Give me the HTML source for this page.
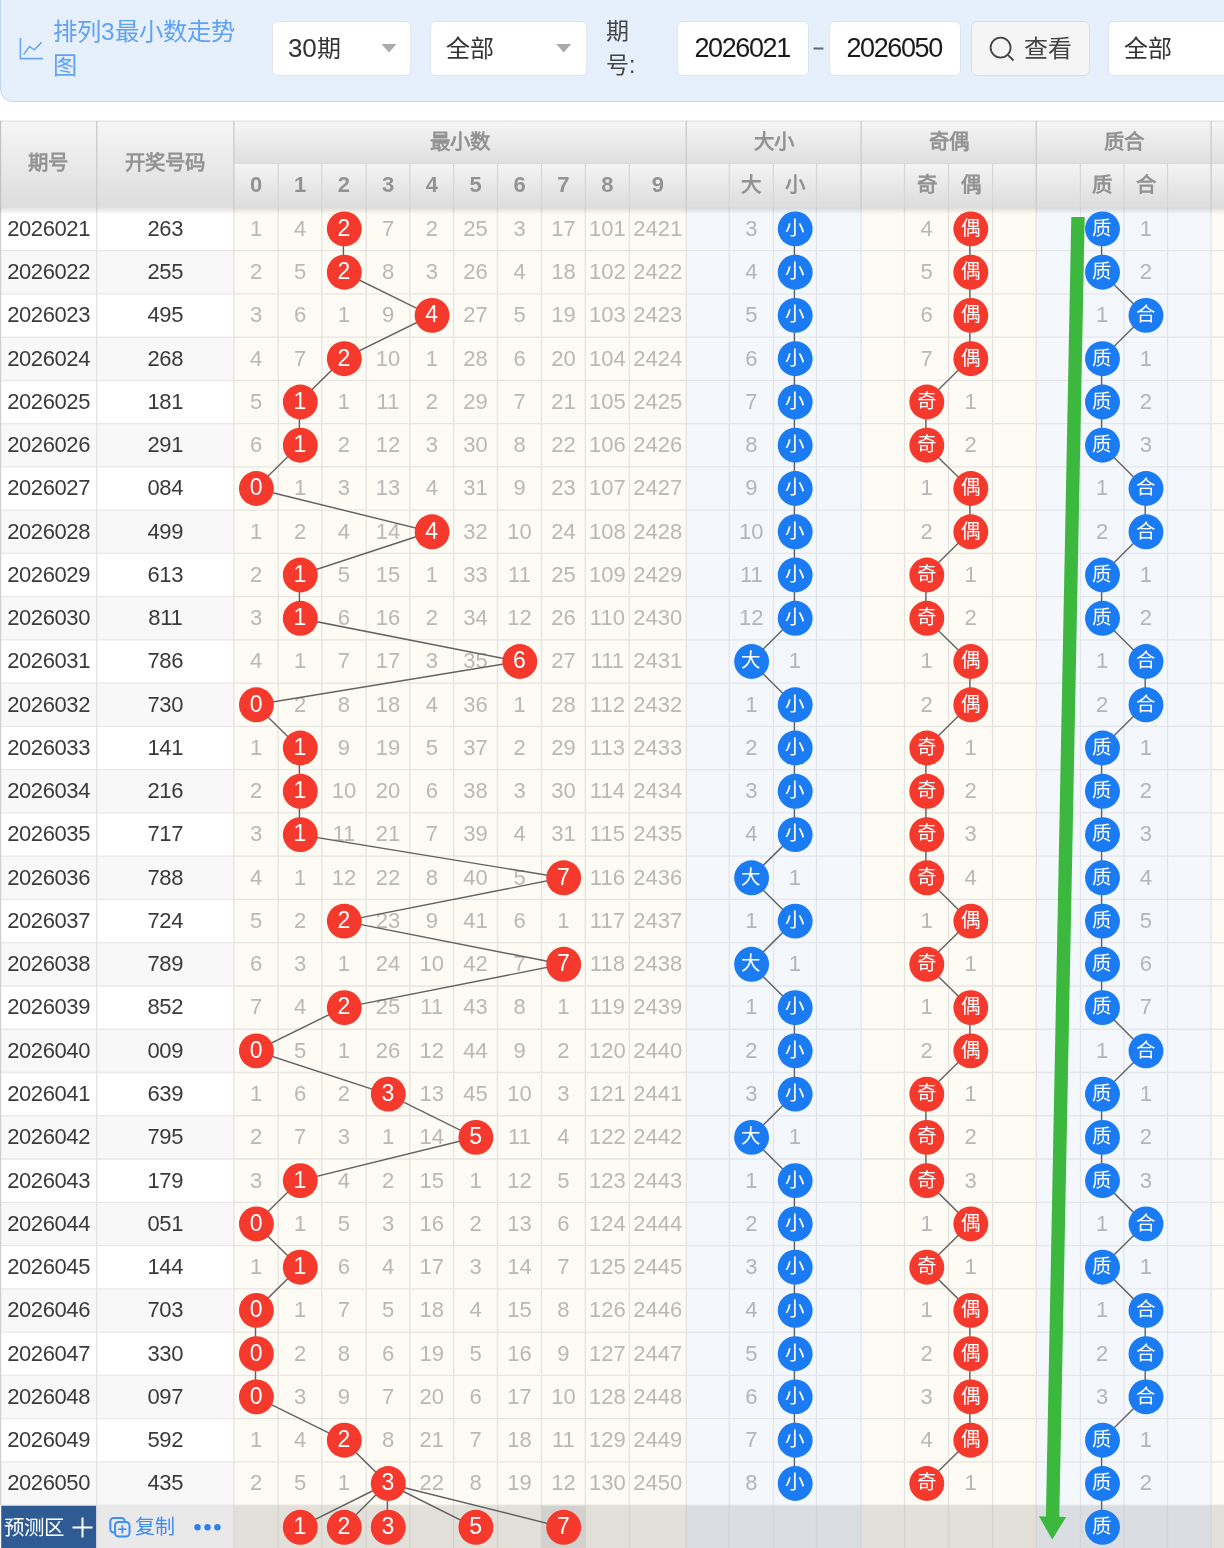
<!DOCTYPE html>
<html lang="zh-CN"><head><meta charset="utf-8"><title>排列3最小数走势图</title><style>
html,body{margin:0;padding:0;background:#fff;overflow:hidden}
body{width:1224px;height:1548px;overflow:hidden;position:relative;font-family:"Liberation Sans",sans-serif}
svg{position:absolute;left:0;top:0}
.L{position:absolute;left:0;top:0;width:1224px;height:1548px;will-change:transform}
.box,.ti,.lab{will-change:transform}
.t{position:absolute;width:120px;height:43.26px;line-height:43.26px;text-align:center;white-space:nowrap;font-size:22px}
.p{color:#3a3a3a;letter-spacing:-0.4px}
.g{color:#b8b8b4}
.gb{color:#b2b5ba}
.c{color:#fff;font-size:23px}
.k{color:#fff;font-size:19.5px;font-weight:500}
.h{color:#939393;font-weight:bold;font-size:20.5px}
.hd{font-size:22px}
.bar{position:absolute;left:0;top:-30px;width:1300px;height:129.8px;background:#e6f0fd;border:1.5px solid #c2d5ec;border-radius:0 0 0 13px;box-sizing:content-box}
.box{position:absolute;top:21px;height:55px;background:#fff;border:1px solid #dfe3ea;border-radius:6px;box-sizing:border-box;font-size:24px;line-height:53px;color:#333;white-space:nowrap}
.n{font-size:26px;letter-spacing:-0.2px;line-height:20px}
.ti{position:absolute;left:53px;top:14.7px;width:200px;font-size:24.3px;line-height:34px;color:#60a1f3}
.lab{position:absolute;left:606px;top:14px;width:40px;font-size:23px;line-height:34px;color:#444}
</style></head><body>
<div class="bar"></div>
<svg width="60" height="80" viewBox="0 0 60 80"><path d="M20.4 38V58.6H43" fill="none" stroke="#6aa5f2" stroke-width="1.6"/><path d="M23.6 54.6L29.4 46.6L34.3 49.8L41.7 42.2" fill="none" stroke="#6aa5f2" stroke-width="1.6"/></svg>
<div class="ti">排列3最小数走势图</div>
<div class="box" style="left:272px;width:139px;padding-left:15px"><span class="n">30</span>期</div>
<div class="box" style="left:430px;width:157px;padding-left:15px">全部</div>
<div class="lab">期号:</div>
<div class="box" style="left:677px;width:132px;padding-left:16.5px;font-size:27px;letter-spacing:-1.4px;color:#1a1a1a;line-height:52px">2026021</div>
<div class="box" style="left:829px;width:132px;padding-left:16.5px;font-size:27px;letter-spacing:-1.4px;color:#1a1a1a;line-height:52px">2026050</div>
<div class="box" style="left:970.5px;width:119px;padding-left:51.5px;background:#f5f5f5;border-color:#dcdcdc;color:#444">查看</div>
<div class="box" style="left:1108px;width:140px;padding-left:15px">全部</div>
<svg width="1224" height="110" viewBox="0 0 1224 110">
<path d="M381.5 44h15l-7.5 8.5z" fill="#aaa"/><path d="M556.2 44h15l-7.5 8.5z" fill="#aaa"/>
<rect x="813.5" y="47.5" width="10" height="2" fill="#5f6b7a"/>
<circle cx="1000.6" cy="47.6" r="10" fill="none" stroke="#444" stroke-width="1.8"/><path d="M1007.8 54.8L1013.5 60.5" stroke="#444" stroke-width="1.8" fill="none"/>
</svg>
<svg width="1224" height="1548" viewBox="0 0 1224 1548">
<defs>
<linearGradient id="hg1" x1="0" y1="0" x2="0" y2="1"><stop offset="0" stop-color="#f6f6f6"/><stop offset="1" stop-color="#dfdfdf"/></linearGradient>
<linearGradient id="hg2" x1="0" y1="0" x2="0" y2="1"><stop offset="0" stop-color="#f6f6f6"/><stop offset="1" stop-color="#dddddd"/></linearGradient>
<linearGradient id="hg3" x1="0" y1="0" x2="0" y2="1"><stop offset="0" stop-color="#f4f4f4"/><stop offset="1" stop-color="#dddddd"/></linearGradient>
<linearGradient id="sh" x1="0" y1="0" x2="0" y2="1"><stop offset="0" stop-color="#000" stop-opacity="0.13"/><stop offset="1" stop-color="#000" stop-opacity="0"/></linearGradient>
</defs>
<g><rect x="0" y="207.3" width="233.9" height="1297.8" fill="#fff"/><rect x="0" y="250.56" width="233.9" height="43.26" fill="#f8f8f8"/><rect x="0" y="337.08" width="233.9" height="43.26" fill="#f8f8f8"/><rect x="0" y="423.60" width="233.9" height="43.26" fill="#f8f8f8"/><rect x="0" y="510.12" width="233.9" height="43.26" fill="#f8f8f8"/><rect x="0" y="596.64" width="233.9" height="43.26" fill="#f8f8f8"/><rect x="0" y="683.16" width="233.9" height="43.26" fill="#f8f8f8"/><rect x="0" y="769.68" width="233.9" height="43.26" fill="#f8f8f8"/><rect x="0" y="856.20" width="233.9" height="43.26" fill="#f8f8f8"/><rect x="0" y="942.72" width="233.9" height="43.26" fill="#f8f8f8"/><rect x="0" y="1029.24" width="233.9" height="43.26" fill="#f8f8f8"/><rect x="0" y="1115.76" width="233.9" height="43.26" fill="#f8f8f8"/><rect x="0" y="1202.28" width="233.9" height="43.26" fill="#f8f8f8"/><rect x="0" y="1288.80" width="233.9" height="43.26" fill="#f8f8f8"/><rect x="0" y="1375.32" width="233.9" height="43.26" fill="#f8f8f8"/><rect x="0" y="1461.84" width="233.9" height="43.26" fill="#f8f8f8"/><rect x="233.90" y="207.3" width="452.40" height="1297.80" fill="#fdfbf4"/><rect x="686.30" y="207.3" width="174.80" height="1297.80" fill="#f4f8fd"/><rect x="861.10" y="207.3" width="175.20" height="1297.80" fill="#fdfbf4"/><rect x="1036.30" y="207.3" width="174.80" height="1297.80" fill="#f4f8fd"/><rect x="1211.10" y="207.3" width="14.90" height="1297.80" fill="#fdfbf4"/><rect x="1.2" y="1505.10" width="95.5" height="60" fill="#2f5b94"/><rect x="96.7" y="1505.10" width="137.2" height="60" fill="#e9e9e9"/><rect x="233.90" y="1505.10" width="452.40" height="60" fill="#e2e0d9"/><rect x="686.30" y="1505.10" width="174.80" height="60" fill="#dadde2"/><rect x="861.10" y="1505.10" width="175.20" height="60" fill="#e2e0d9"/><rect x="1036.30" y="1505.10" width="174.80" height="60" fill="#dadde2"/><rect x="1211.10" y="1505.10" width="14.90" height="60" fill="#e2e0d9"/><rect x="541.50" y="1505.10" width="43.80" height="60" fill="#d2d1cd"/></g>
<g stroke-width="1.3"><line x1="0" y1="250.56" x2="233.9" y2="250.56" stroke="#e9e9e9"/><line x1="233.90" y1="250.56" x2="686.30" y2="250.56" stroke="#e5e6e2"/><line x1="686.30" y1="250.56" x2="861.10" y2="250.56" stroke="#e3e6eb"/><line x1="861.10" y1="250.56" x2="1036.30" y2="250.56" stroke="#e5e6e2"/><line x1="1036.30" y1="250.56" x2="1211.10" y2="250.56" stroke="#e3e6eb"/><line x1="1211.10" y1="250.56" x2="1226.00" y2="250.56" stroke="#e5e6e2"/><line x1="0" y1="293.82" x2="233.9" y2="293.82" stroke="#e9e9e9"/><line x1="233.90" y1="293.82" x2="686.30" y2="293.82" stroke="#e5e6e2"/><line x1="686.30" y1="293.82" x2="861.10" y2="293.82" stroke="#e3e6eb"/><line x1="861.10" y1="293.82" x2="1036.30" y2="293.82" stroke="#e5e6e2"/><line x1="1036.30" y1="293.82" x2="1211.10" y2="293.82" stroke="#e3e6eb"/><line x1="1211.10" y1="293.82" x2="1226.00" y2="293.82" stroke="#e5e6e2"/><line x1="0" y1="337.08" x2="233.9" y2="337.08" stroke="#e9e9e9"/><line x1="233.90" y1="337.08" x2="686.30" y2="337.08" stroke="#e5e6e2"/><line x1="686.30" y1="337.08" x2="861.10" y2="337.08" stroke="#e3e6eb"/><line x1="861.10" y1="337.08" x2="1036.30" y2="337.08" stroke="#e5e6e2"/><line x1="1036.30" y1="337.08" x2="1211.10" y2="337.08" stroke="#e3e6eb"/><line x1="1211.10" y1="337.08" x2="1226.00" y2="337.08" stroke="#e5e6e2"/><line x1="0" y1="380.34" x2="233.9" y2="380.34" stroke="#e9e9e9"/><line x1="233.90" y1="380.34" x2="686.30" y2="380.34" stroke="#e5e6e2"/><line x1="686.30" y1="380.34" x2="861.10" y2="380.34" stroke="#e3e6eb"/><line x1="861.10" y1="380.34" x2="1036.30" y2="380.34" stroke="#e5e6e2"/><line x1="1036.30" y1="380.34" x2="1211.10" y2="380.34" stroke="#e3e6eb"/><line x1="1211.10" y1="380.34" x2="1226.00" y2="380.34" stroke="#e5e6e2"/><line x1="0" y1="423.60" x2="233.9" y2="423.60" stroke="#e9e9e9"/><line x1="233.90" y1="423.60" x2="686.30" y2="423.60" stroke="#e5e6e2"/><line x1="686.30" y1="423.60" x2="861.10" y2="423.60" stroke="#e3e6eb"/><line x1="861.10" y1="423.60" x2="1036.30" y2="423.60" stroke="#e5e6e2"/><line x1="1036.30" y1="423.60" x2="1211.10" y2="423.60" stroke="#e3e6eb"/><line x1="1211.10" y1="423.60" x2="1226.00" y2="423.60" stroke="#e5e6e2"/><line x1="0" y1="466.86" x2="233.9" y2="466.86" stroke="#e9e9e9"/><line x1="233.90" y1="466.86" x2="686.30" y2="466.86" stroke="#e5e6e2"/><line x1="686.30" y1="466.86" x2="861.10" y2="466.86" stroke="#e3e6eb"/><line x1="861.10" y1="466.86" x2="1036.30" y2="466.86" stroke="#e5e6e2"/><line x1="1036.30" y1="466.86" x2="1211.10" y2="466.86" stroke="#e3e6eb"/><line x1="1211.10" y1="466.86" x2="1226.00" y2="466.86" stroke="#e5e6e2"/><line x1="0" y1="510.12" x2="233.9" y2="510.12" stroke="#e9e9e9"/><line x1="233.90" y1="510.12" x2="686.30" y2="510.12" stroke="#e5e6e2"/><line x1="686.30" y1="510.12" x2="861.10" y2="510.12" stroke="#e3e6eb"/><line x1="861.10" y1="510.12" x2="1036.30" y2="510.12" stroke="#e5e6e2"/><line x1="1036.30" y1="510.12" x2="1211.10" y2="510.12" stroke="#e3e6eb"/><line x1="1211.10" y1="510.12" x2="1226.00" y2="510.12" stroke="#e5e6e2"/><line x1="0" y1="553.38" x2="233.9" y2="553.38" stroke="#e9e9e9"/><line x1="233.90" y1="553.38" x2="686.30" y2="553.38" stroke="#e5e6e2"/><line x1="686.30" y1="553.38" x2="861.10" y2="553.38" stroke="#e3e6eb"/><line x1="861.10" y1="553.38" x2="1036.30" y2="553.38" stroke="#e5e6e2"/><line x1="1036.30" y1="553.38" x2="1211.10" y2="553.38" stroke="#e3e6eb"/><line x1="1211.10" y1="553.38" x2="1226.00" y2="553.38" stroke="#e5e6e2"/><line x1="0" y1="596.64" x2="233.9" y2="596.64" stroke="#e9e9e9"/><line x1="233.90" y1="596.64" x2="686.30" y2="596.64" stroke="#e5e6e2"/><line x1="686.30" y1="596.64" x2="861.10" y2="596.64" stroke="#e3e6eb"/><line x1="861.10" y1="596.64" x2="1036.30" y2="596.64" stroke="#e5e6e2"/><line x1="1036.30" y1="596.64" x2="1211.10" y2="596.64" stroke="#e3e6eb"/><line x1="1211.10" y1="596.64" x2="1226.00" y2="596.64" stroke="#e5e6e2"/><line x1="0" y1="639.90" x2="233.9" y2="639.90" stroke="#e9e9e9"/><line x1="233.90" y1="639.90" x2="686.30" y2="639.90" stroke="#e5e6e2"/><line x1="686.30" y1="639.90" x2="861.10" y2="639.90" stroke="#e3e6eb"/><line x1="861.10" y1="639.90" x2="1036.30" y2="639.90" stroke="#e5e6e2"/><line x1="1036.30" y1="639.90" x2="1211.10" y2="639.90" stroke="#e3e6eb"/><line x1="1211.10" y1="639.90" x2="1226.00" y2="639.90" stroke="#e5e6e2"/><line x1="0" y1="683.16" x2="233.9" y2="683.16" stroke="#e9e9e9"/><line x1="233.90" y1="683.16" x2="686.30" y2="683.16" stroke="#e5e6e2"/><line x1="686.30" y1="683.16" x2="861.10" y2="683.16" stroke="#e3e6eb"/><line x1="861.10" y1="683.16" x2="1036.30" y2="683.16" stroke="#e5e6e2"/><line x1="1036.30" y1="683.16" x2="1211.10" y2="683.16" stroke="#e3e6eb"/><line x1="1211.10" y1="683.16" x2="1226.00" y2="683.16" stroke="#e5e6e2"/><line x1="0" y1="726.42" x2="233.9" y2="726.42" stroke="#e9e9e9"/><line x1="233.90" y1="726.42" x2="686.30" y2="726.42" stroke="#e5e6e2"/><line x1="686.30" y1="726.42" x2="861.10" y2="726.42" stroke="#e3e6eb"/><line x1="861.10" y1="726.42" x2="1036.30" y2="726.42" stroke="#e5e6e2"/><line x1="1036.30" y1="726.42" x2="1211.10" y2="726.42" stroke="#e3e6eb"/><line x1="1211.10" y1="726.42" x2="1226.00" y2="726.42" stroke="#e5e6e2"/><line x1="0" y1="769.68" x2="233.9" y2="769.68" stroke="#e9e9e9"/><line x1="233.90" y1="769.68" x2="686.30" y2="769.68" stroke="#e5e6e2"/><line x1="686.30" y1="769.68" x2="861.10" y2="769.68" stroke="#e3e6eb"/><line x1="861.10" y1="769.68" x2="1036.30" y2="769.68" stroke="#e5e6e2"/><line x1="1036.30" y1="769.68" x2="1211.10" y2="769.68" stroke="#e3e6eb"/><line x1="1211.10" y1="769.68" x2="1226.00" y2="769.68" stroke="#e5e6e2"/><line x1="0" y1="812.94" x2="233.9" y2="812.94" stroke="#e9e9e9"/><line x1="233.90" y1="812.94" x2="686.30" y2="812.94" stroke="#e5e6e2"/><line x1="686.30" y1="812.94" x2="861.10" y2="812.94" stroke="#e3e6eb"/><line x1="861.10" y1="812.94" x2="1036.30" y2="812.94" stroke="#e5e6e2"/><line x1="1036.30" y1="812.94" x2="1211.10" y2="812.94" stroke="#e3e6eb"/><line x1="1211.10" y1="812.94" x2="1226.00" y2="812.94" stroke="#e5e6e2"/><line x1="0" y1="856.20" x2="233.9" y2="856.20" stroke="#e9e9e9"/><line x1="233.90" y1="856.20" x2="686.30" y2="856.20" stroke="#e5e6e2"/><line x1="686.30" y1="856.20" x2="861.10" y2="856.20" stroke="#e3e6eb"/><line x1="861.10" y1="856.20" x2="1036.30" y2="856.20" stroke="#e5e6e2"/><line x1="1036.30" y1="856.20" x2="1211.10" y2="856.20" stroke="#e3e6eb"/><line x1="1211.10" y1="856.20" x2="1226.00" y2="856.20" stroke="#e5e6e2"/><line x1="0" y1="899.46" x2="233.9" y2="899.46" stroke="#e9e9e9"/><line x1="233.90" y1="899.46" x2="686.30" y2="899.46" stroke="#e5e6e2"/><line x1="686.30" y1="899.46" x2="861.10" y2="899.46" stroke="#e3e6eb"/><line x1="861.10" y1="899.46" x2="1036.30" y2="899.46" stroke="#e5e6e2"/><line x1="1036.30" y1="899.46" x2="1211.10" y2="899.46" stroke="#e3e6eb"/><line x1="1211.10" y1="899.46" x2="1226.00" y2="899.46" stroke="#e5e6e2"/><line x1="0" y1="942.72" x2="233.9" y2="942.72" stroke="#e9e9e9"/><line x1="233.90" y1="942.72" x2="686.30" y2="942.72" stroke="#e5e6e2"/><line x1="686.30" y1="942.72" x2="861.10" y2="942.72" stroke="#e3e6eb"/><line x1="861.10" y1="942.72" x2="1036.30" y2="942.72" stroke="#e5e6e2"/><line x1="1036.30" y1="942.72" x2="1211.10" y2="942.72" stroke="#e3e6eb"/><line x1="1211.10" y1="942.72" x2="1226.00" y2="942.72" stroke="#e5e6e2"/><line x1="0" y1="985.98" x2="233.9" y2="985.98" stroke="#e9e9e9"/><line x1="233.90" y1="985.98" x2="686.30" y2="985.98" stroke="#e5e6e2"/><line x1="686.30" y1="985.98" x2="861.10" y2="985.98" stroke="#e3e6eb"/><line x1="861.10" y1="985.98" x2="1036.30" y2="985.98" stroke="#e5e6e2"/><line x1="1036.30" y1="985.98" x2="1211.10" y2="985.98" stroke="#e3e6eb"/><line x1="1211.10" y1="985.98" x2="1226.00" y2="985.98" stroke="#e5e6e2"/><line x1="0" y1="1029.24" x2="233.9" y2="1029.24" stroke="#e9e9e9"/><line x1="233.90" y1="1029.24" x2="686.30" y2="1029.24" stroke="#e5e6e2"/><line x1="686.30" y1="1029.24" x2="861.10" y2="1029.24" stroke="#e3e6eb"/><line x1="861.10" y1="1029.24" x2="1036.30" y2="1029.24" stroke="#e5e6e2"/><line x1="1036.30" y1="1029.24" x2="1211.10" y2="1029.24" stroke="#e3e6eb"/><line x1="1211.10" y1="1029.24" x2="1226.00" y2="1029.24" stroke="#e5e6e2"/><line x1="0" y1="1072.50" x2="233.9" y2="1072.50" stroke="#e9e9e9"/><line x1="233.90" y1="1072.50" x2="686.30" y2="1072.50" stroke="#e5e6e2"/><line x1="686.30" y1="1072.50" x2="861.10" y2="1072.50" stroke="#e3e6eb"/><line x1="861.10" y1="1072.50" x2="1036.30" y2="1072.50" stroke="#e5e6e2"/><line x1="1036.30" y1="1072.50" x2="1211.10" y2="1072.50" stroke="#e3e6eb"/><line x1="1211.10" y1="1072.50" x2="1226.00" y2="1072.50" stroke="#e5e6e2"/><line x1="0" y1="1115.76" x2="233.9" y2="1115.76" stroke="#e9e9e9"/><line x1="233.90" y1="1115.76" x2="686.30" y2="1115.76" stroke="#e5e6e2"/><line x1="686.30" y1="1115.76" x2="861.10" y2="1115.76" stroke="#e3e6eb"/><line x1="861.10" y1="1115.76" x2="1036.30" y2="1115.76" stroke="#e5e6e2"/><line x1="1036.30" y1="1115.76" x2="1211.10" y2="1115.76" stroke="#e3e6eb"/><line x1="1211.10" y1="1115.76" x2="1226.00" y2="1115.76" stroke="#e5e6e2"/><line x1="0" y1="1159.02" x2="233.9" y2="1159.02" stroke="#e9e9e9"/><line x1="233.90" y1="1159.02" x2="686.30" y2="1159.02" stroke="#e5e6e2"/><line x1="686.30" y1="1159.02" x2="861.10" y2="1159.02" stroke="#e3e6eb"/><line x1="861.10" y1="1159.02" x2="1036.30" y2="1159.02" stroke="#e5e6e2"/><line x1="1036.30" y1="1159.02" x2="1211.10" y2="1159.02" stroke="#e3e6eb"/><line x1="1211.10" y1="1159.02" x2="1226.00" y2="1159.02" stroke="#e5e6e2"/><line x1="0" y1="1202.28" x2="233.9" y2="1202.28" stroke="#e9e9e9"/><line x1="233.90" y1="1202.28" x2="686.30" y2="1202.28" stroke="#e5e6e2"/><line x1="686.30" y1="1202.28" x2="861.10" y2="1202.28" stroke="#e3e6eb"/><line x1="861.10" y1="1202.28" x2="1036.30" y2="1202.28" stroke="#e5e6e2"/><line x1="1036.30" y1="1202.28" x2="1211.10" y2="1202.28" stroke="#e3e6eb"/><line x1="1211.10" y1="1202.28" x2="1226.00" y2="1202.28" stroke="#e5e6e2"/><line x1="0" y1="1245.54" x2="233.9" y2="1245.54" stroke="#e9e9e9"/><line x1="233.90" y1="1245.54" x2="686.30" y2="1245.54" stroke="#e5e6e2"/><line x1="686.30" y1="1245.54" x2="861.10" y2="1245.54" stroke="#e3e6eb"/><line x1="861.10" y1="1245.54" x2="1036.30" y2="1245.54" stroke="#e5e6e2"/><line x1="1036.30" y1="1245.54" x2="1211.10" y2="1245.54" stroke="#e3e6eb"/><line x1="1211.10" y1="1245.54" x2="1226.00" y2="1245.54" stroke="#e5e6e2"/><line x1="0" y1="1288.80" x2="233.9" y2="1288.80" stroke="#e9e9e9"/><line x1="233.90" y1="1288.80" x2="686.30" y2="1288.80" stroke="#e5e6e2"/><line x1="686.30" y1="1288.80" x2="861.10" y2="1288.80" stroke="#e3e6eb"/><line x1="861.10" y1="1288.80" x2="1036.30" y2="1288.80" stroke="#e5e6e2"/><line x1="1036.30" y1="1288.80" x2="1211.10" y2="1288.80" stroke="#e3e6eb"/><line x1="1211.10" y1="1288.80" x2="1226.00" y2="1288.80" stroke="#e5e6e2"/><line x1="0" y1="1332.06" x2="233.9" y2="1332.06" stroke="#e9e9e9"/><line x1="233.90" y1="1332.06" x2="686.30" y2="1332.06" stroke="#e5e6e2"/><line x1="686.30" y1="1332.06" x2="861.10" y2="1332.06" stroke="#e3e6eb"/><line x1="861.10" y1="1332.06" x2="1036.30" y2="1332.06" stroke="#e5e6e2"/><line x1="1036.30" y1="1332.06" x2="1211.10" y2="1332.06" stroke="#e3e6eb"/><line x1="1211.10" y1="1332.06" x2="1226.00" y2="1332.06" stroke="#e5e6e2"/><line x1="0" y1="1375.32" x2="233.9" y2="1375.32" stroke="#e9e9e9"/><line x1="233.90" y1="1375.32" x2="686.30" y2="1375.32" stroke="#e5e6e2"/><line x1="686.30" y1="1375.32" x2="861.10" y2="1375.32" stroke="#e3e6eb"/><line x1="861.10" y1="1375.32" x2="1036.30" y2="1375.32" stroke="#e5e6e2"/><line x1="1036.30" y1="1375.32" x2="1211.10" y2="1375.32" stroke="#e3e6eb"/><line x1="1211.10" y1="1375.32" x2="1226.00" y2="1375.32" stroke="#e5e6e2"/><line x1="0" y1="1418.58" x2="233.9" y2="1418.58" stroke="#e9e9e9"/><line x1="233.90" y1="1418.58" x2="686.30" y2="1418.58" stroke="#e5e6e2"/><line x1="686.30" y1="1418.58" x2="861.10" y2="1418.58" stroke="#e3e6eb"/><line x1="861.10" y1="1418.58" x2="1036.30" y2="1418.58" stroke="#e5e6e2"/><line x1="1036.30" y1="1418.58" x2="1211.10" y2="1418.58" stroke="#e3e6eb"/><line x1="1211.10" y1="1418.58" x2="1226.00" y2="1418.58" stroke="#e5e6e2"/><line x1="0" y1="1461.84" x2="233.9" y2="1461.84" stroke="#e9e9e9"/><line x1="233.90" y1="1461.84" x2="686.30" y2="1461.84" stroke="#e5e6e2"/><line x1="686.30" y1="1461.84" x2="861.10" y2="1461.84" stroke="#e3e6eb"/><line x1="861.10" y1="1461.84" x2="1036.30" y2="1461.84" stroke="#e5e6e2"/><line x1="1036.30" y1="1461.84" x2="1211.10" y2="1461.84" stroke="#e3e6eb"/><line x1="1211.10" y1="1461.84" x2="1226.00" y2="1461.84" stroke="#e5e6e2"/><line x1="0" y1="1505.10" x2="233.9" y2="1505.10" stroke="#e9e9e9"/><line x1="233.90" y1="1505.10" x2="686.30" y2="1505.10" stroke="#e5e6e2"/><line x1="686.30" y1="1505.10" x2="861.10" y2="1505.10" stroke="#e3e6eb"/><line x1="861.10" y1="1505.10" x2="1036.30" y2="1505.10" stroke="#e5e6e2"/><line x1="1036.30" y1="1505.10" x2="1211.10" y2="1505.10" stroke="#e3e6eb"/><line x1="1211.10" y1="1505.10" x2="1226.00" y2="1505.10" stroke="#e5e6e2"/><line x1="96.70" y1="207.3" x2="96.70" y2="1505.10" stroke="#e3e3e3"/><line x1="96.70" y1="1505.10" x2="96.70" y2="1548" stroke="#d8d8d8"/><line x1="233.90" y1="207.3" x2="233.90" y2="1505.10" stroke="#e3e3e3"/><line x1="233.90" y1="1505.10" x2="233.90" y2="1548" stroke="#d8d8d8"/><line x1="278.20" y1="207.3" x2="278.20" y2="1505.10" stroke="#e3e4e0"/><line x1="278.20" y1="1505.10" x2="278.20" y2="1548" stroke="#d4d2cc"/><line x1="321.80" y1="207.3" x2="321.80" y2="1505.10" stroke="#e3e4e0"/><line x1="321.80" y1="1505.10" x2="321.80" y2="1548" stroke="#d4d2cc"/><line x1="366.10" y1="207.3" x2="366.10" y2="1505.10" stroke="#e3e4e0"/><line x1="366.10" y1="1505.10" x2="366.10" y2="1548" stroke="#d4d2cc"/><line x1="409.90" y1="207.3" x2="409.90" y2="1505.10" stroke="#e3e4e0"/><line x1="409.90" y1="1505.10" x2="409.90" y2="1548" stroke="#d4d2cc"/><line x1="453.60" y1="207.3" x2="453.60" y2="1505.10" stroke="#e3e4e0"/><line x1="453.60" y1="1505.10" x2="453.60" y2="1548" stroke="#d4d2cc"/><line x1="497.50" y1="207.3" x2="497.50" y2="1505.10" stroke="#e3e4e0"/><line x1="497.50" y1="1505.10" x2="497.50" y2="1548" stroke="#d4d2cc"/><line x1="541.50" y1="207.3" x2="541.50" y2="1505.10" stroke="#e3e4e0"/><line x1="541.50" y1="1505.10" x2="541.50" y2="1548" stroke="#d4d2cc"/><line x1="585.30" y1="207.3" x2="585.30" y2="1505.10" stroke="#e3e4e0"/><line x1="585.30" y1="1505.10" x2="585.30" y2="1548" stroke="#d4d2cc"/><line x1="629.40" y1="207.3" x2="629.40" y2="1505.10" stroke="#e3e4e0"/><line x1="629.40" y1="1505.10" x2="629.40" y2="1548" stroke="#d4d2cc"/><line x1="686.30" y1="207.3" x2="686.30" y2="1505.10" stroke="#e3e4e0"/><line x1="686.30" y1="1505.10" x2="686.30" y2="1548" stroke="#d4d2cc"/><line x1="729.20" y1="207.3" x2="729.20" y2="1505.10" stroke="#e1e4e9"/><line x1="729.20" y1="1505.10" x2="729.20" y2="1548" stroke="#d2d4d8"/><line x1="773.40" y1="207.3" x2="773.40" y2="1505.10" stroke="#e1e4e9"/><line x1="773.40" y1="1505.10" x2="773.40" y2="1548" stroke="#d2d4d8"/><line x1="816.50" y1="207.3" x2="816.50" y2="1505.10" stroke="#e1e4e9"/><line x1="816.50" y1="1505.10" x2="816.50" y2="1548" stroke="#d2d4d8"/><line x1="861.10" y1="207.3" x2="861.10" y2="1505.10" stroke="#e1e4e9"/><line x1="861.10" y1="1505.10" x2="861.10" y2="1548" stroke="#d2d4d8"/><line x1="904.50" y1="207.3" x2="904.50" y2="1505.10" stroke="#e3e4e0"/><line x1="904.50" y1="1505.10" x2="904.50" y2="1548" stroke="#d4d2cc"/><line x1="948.50" y1="207.3" x2="948.50" y2="1505.10" stroke="#e3e4e0"/><line x1="948.50" y1="1505.10" x2="948.50" y2="1548" stroke="#d4d2cc"/><line x1="992.60" y1="207.3" x2="992.60" y2="1505.10" stroke="#e3e4e0"/><line x1="992.60" y1="1505.10" x2="992.60" y2="1548" stroke="#d4d2cc"/><line x1="1036.30" y1="207.3" x2="1036.30" y2="1505.10" stroke="#e3e4e0"/><line x1="1036.30" y1="1505.10" x2="1036.30" y2="1548" stroke="#d4d2cc"/><line x1="1080.40" y1="207.3" x2="1080.40" y2="1505.10" stroke="#e1e4e9"/><line x1="1080.40" y1="1505.10" x2="1080.40" y2="1548" stroke="#d2d4d8"/><line x1="1124.00" y1="207.3" x2="1124.00" y2="1505.10" stroke="#e1e4e9"/><line x1="1124.00" y1="1505.10" x2="1124.00" y2="1548" stroke="#d2d4d8"/><line x1="1167.50" y1="207.3" x2="1167.50" y2="1505.10" stroke="#e1e4e9"/><line x1="1167.50" y1="1505.10" x2="1167.50" y2="1548" stroke="#d2d4d8"/><line x1="1211.10" y1="207.3" x2="1211.10" y2="1505.10" stroke="#e1e4e9"/><line x1="1211.10" y1="1505.10" x2="1211.10" y2="1548" stroke="#d2d4d8"/><line x1="0.6" y1="120.8" x2="0.6" y2="1505.10" stroke="#cfcfcf" stroke-width="1.2"/></g>
<g><rect x="0" y="120.8" width="233.9" height="86.50000000000001" fill="url(#hg2)"/><rect x="233.9" y="120.8" width="990.1" height="42.7" fill="url(#hg1)"/><rect x="233.9" y="163.5" width="990.1" height="43.80000000000001" fill="url(#hg3)"/><rect x="0" y="207.3" width="1224" height="7" fill="url(#sh)"/><line x1="0" y1="121.2" x2="1224" y2="121.2" stroke="#e4e4e4" stroke-width="1.2"/><line x1="233.9" y1="163.5" x2="1224" y2="163.5" stroke="#dcdcdc" stroke-width="1"/><line x1="96.70" y1="120.8" x2="96.70" y2="207.3" stroke="#cdcdcd" stroke-width="1.4"/><line x1="233.90" y1="120.8" x2="233.90" y2="207.3" stroke="#cdcdcd" stroke-width="1.4"/><line x1="686.30" y1="120.8" x2="686.30" y2="207.3" stroke="#cdcdcd" stroke-width="1.4"/><line x1="861.10" y1="120.8" x2="861.10" y2="207.3" stroke="#cdcdcd" stroke-width="1.4"/><line x1="1036.30" y1="120.8" x2="1036.30" y2="207.3" stroke="#cdcdcd" stroke-width="1.4"/><line x1="1211.10" y1="120.8" x2="1211.10" y2="207.3" stroke="#cdcdcd" stroke-width="1.4"/><line x1="278.20" y1="163.5" x2="278.20" y2="207.3" stroke="#d6d6d6" stroke-width="1.2"/><line x1="321.80" y1="163.5" x2="321.80" y2="207.3" stroke="#d6d6d6" stroke-width="1.2"/><line x1="366.10" y1="163.5" x2="366.10" y2="207.3" stroke="#d6d6d6" stroke-width="1.2"/><line x1="409.90" y1="163.5" x2="409.90" y2="207.3" stroke="#d6d6d6" stroke-width="1.2"/><line x1="453.60" y1="163.5" x2="453.60" y2="207.3" stroke="#d6d6d6" stroke-width="1.2"/><line x1="497.50" y1="163.5" x2="497.50" y2="207.3" stroke="#d6d6d6" stroke-width="1.2"/><line x1="541.50" y1="163.5" x2="541.50" y2="207.3" stroke="#d6d6d6" stroke-width="1.2"/><line x1="585.30" y1="163.5" x2="585.30" y2="207.3" stroke="#d6d6d6" stroke-width="1.2"/><line x1="629.40" y1="163.5" x2="629.40" y2="207.3" stroke="#d6d6d6" stroke-width="1.2"/><line x1="729.20" y1="163.5" x2="729.20" y2="207.3" stroke="#d6d6d6" stroke-width="1.2"/><line x1="773.40" y1="163.5" x2="773.40" y2="207.3" stroke="#d6d6d6" stroke-width="1.2"/><line x1="816.50" y1="163.5" x2="816.50" y2="207.3" stroke="#d6d6d6" stroke-width="1.2"/><line x1="904.50" y1="163.5" x2="904.50" y2="207.3" stroke="#d6d6d6" stroke-width="1.2"/><line x1="948.50" y1="163.5" x2="948.50" y2="207.3" stroke="#d6d6d6" stroke-width="1.2"/><line x1="992.60" y1="163.5" x2="992.60" y2="207.3" stroke="#d6d6d6" stroke-width="1.2"/><line x1="1080.40" y1="163.5" x2="1080.40" y2="207.3" stroke="#d6d6d6" stroke-width="1.2"/><line x1="1124.00" y1="163.5" x2="1124.00" y2="207.3" stroke="#d6d6d6" stroke-width="1.2"/><line x1="1167.50" y1="163.5" x2="1167.50" y2="207.3" stroke="#d6d6d6" stroke-width="1.2"/><line x1="0.6" y1="120.8" x2="0.6" y2="207.3" stroke="#c4c4c4" stroke-width="1.2"/></g>
</svg>
<div class="L"><div class="t h" style="left:-51.65px;top:140.87px;width:200px">期号</div><div class="t h" style="left:65.30px;top:140.87px;width:200px">开奖号码</div><div class="t h" style="left:360.10px;top:119.87px;width:200px">最小数</div><div class="t h" style="left:673.70px;top:119.87px;width:200px">大小</div><div class="t h" style="left:848.70px;top:119.87px;width:200px">奇偶</div><div class="t h" style="left:1023.70px;top:119.87px;width:200px">质合</div><div class="t h hd" style="left:156.05px;top:163.37px;width:200px">0</div><div class="t h hd" style="left:200.00px;top:163.37px;width:200px">1</div><div class="t h hd" style="left:243.95px;top:163.37px;width:200px">2</div><div class="t h hd" style="left:288.00px;top:163.37px;width:200px">3</div><div class="t h hd" style="left:331.75px;top:163.37px;width:200px">4</div><div class="t h hd" style="left:375.55px;top:163.37px;width:200px">5</div><div class="t h hd" style="left:419.50px;top:163.37px;width:200px">6</div><div class="t h hd" style="left:463.40px;top:163.37px;width:200px">7</div><div class="t h hd" style="left:507.35px;top:163.37px;width:200px">8</div><div class="t h hd" style="left:557.85px;top:163.37px;width:200px">9</div><div class="t h" style="left:651.30px;top:163.37px;width:200px">大</div><div class="t h" style="left:694.95px;top:163.37px;width:200px">小</div><div class="t h" style="left:826.50px;top:163.37px;width:200px">奇</div><div class="t h" style="left:870.55px;top:163.37px;width:200px">偶</div><div class="t h" style="left:1002.20px;top:163.37px;width:200px">质</div><div class="t h" style="left:1045.75px;top:163.37px;width:200px">合</div><div class="t p" style="left:-11.45px;top:206.80px">2026021</div><div class="t p" style="left:105.30px;top:206.80px">263</div><div class="t g" style="left:196.05px;top:206.80px">1</div><div class="t g" style="left:240.00px;top:206.80px">4</div><div class="t g" style="left:328.00px;top:206.80px">7</div><div class="t g" style="left:371.75px;top:206.80px">2</div><div class="t g" style="left:415.55px;top:206.80px">25</div><div class="t g" style="left:459.50px;top:206.80px">3</div><div class="t g" style="left:503.40px;top:206.80px">17</div><div class="t g" style="left:547.35px;top:206.80px">101</div><div class="t g" style="left:597.85px;top:206.80px">2421</div><div class="t g gb" style="left:691.30px;top:206.80px">3</div><div class="t g" style="left:866.50px;top:206.80px">4</div><div class="t g gb" style="left:1085.75px;top:206.80px">1</div><div class="t p" style="left:-11.45px;top:250.06px">2026022</div><div class="t p" style="left:105.30px;top:250.06px">255</div><div class="t g" style="left:196.05px;top:250.06px">2</div><div class="t g" style="left:240.00px;top:250.06px">5</div><div class="t g" style="left:328.00px;top:250.06px">8</div><div class="t g" style="left:371.75px;top:250.06px">3</div><div class="t g" style="left:415.55px;top:250.06px">26</div><div class="t g" style="left:459.50px;top:250.06px">4</div><div class="t g" style="left:503.40px;top:250.06px">18</div><div class="t g" style="left:547.35px;top:250.06px">102</div><div class="t g" style="left:597.85px;top:250.06px">2422</div><div class="t g gb" style="left:691.30px;top:250.06px">4</div><div class="t g" style="left:866.50px;top:250.06px">5</div><div class="t g gb" style="left:1085.75px;top:250.06px">2</div><div class="t p" style="left:-11.45px;top:293.32px">2026023</div><div class="t p" style="left:105.30px;top:293.32px">495</div><div class="t g" style="left:196.05px;top:293.32px">3</div><div class="t g" style="left:240.00px;top:293.32px">6</div><div class="t g" style="left:283.95px;top:293.32px">1</div><div class="t g" style="left:328.00px;top:293.32px">9</div><div class="t g" style="left:415.55px;top:293.32px">27</div><div class="t g" style="left:459.50px;top:293.32px">5</div><div class="t g" style="left:503.40px;top:293.32px">19</div><div class="t g" style="left:547.35px;top:293.32px">103</div><div class="t g" style="left:597.85px;top:293.32px">2423</div><div class="t g gb" style="left:691.30px;top:293.32px">5</div><div class="t g" style="left:866.50px;top:293.32px">6</div><div class="t g gb" style="left:1042.20px;top:293.32px">1</div><div class="t p" style="left:-11.45px;top:336.58px">2026024</div><div class="t p" style="left:105.30px;top:336.58px">268</div><div class="t g" style="left:196.05px;top:336.58px">4</div><div class="t g" style="left:240.00px;top:336.58px">7</div><div class="t g" style="left:328.00px;top:336.58px">10</div><div class="t g" style="left:371.75px;top:336.58px">1</div><div class="t g" style="left:415.55px;top:336.58px">28</div><div class="t g" style="left:459.50px;top:336.58px">6</div><div class="t g" style="left:503.40px;top:336.58px">20</div><div class="t g" style="left:547.35px;top:336.58px">104</div><div class="t g" style="left:597.85px;top:336.58px">2424</div><div class="t g gb" style="left:691.30px;top:336.58px">6</div><div class="t g" style="left:866.50px;top:336.58px">7</div><div class="t g gb" style="left:1085.75px;top:336.58px">1</div><div class="t p" style="left:-11.45px;top:379.84px">2026025</div><div class="t p" style="left:105.30px;top:379.84px">181</div><div class="t g" style="left:196.05px;top:379.84px">5</div><div class="t g" style="left:283.95px;top:379.84px">1</div><div class="t g" style="left:328.00px;top:379.84px">11</div><div class="t g" style="left:371.75px;top:379.84px">2</div><div class="t g" style="left:415.55px;top:379.84px">29</div><div class="t g" style="left:459.50px;top:379.84px">7</div><div class="t g" style="left:503.40px;top:379.84px">21</div><div class="t g" style="left:547.35px;top:379.84px">105</div><div class="t g" style="left:597.85px;top:379.84px">2425</div><div class="t g gb" style="left:691.30px;top:379.84px">7</div><div class="t g" style="left:910.55px;top:379.84px">1</div><div class="t g gb" style="left:1085.75px;top:379.84px">2</div><div class="t p" style="left:-11.45px;top:423.10px">2026026</div><div class="t p" style="left:105.30px;top:423.10px">291</div><div class="t g" style="left:196.05px;top:423.10px">6</div><div class="t g" style="left:283.95px;top:423.10px">2</div><div class="t g" style="left:328.00px;top:423.10px">12</div><div class="t g" style="left:371.75px;top:423.10px">3</div><div class="t g" style="left:415.55px;top:423.10px">30</div><div class="t g" style="left:459.50px;top:423.10px">8</div><div class="t g" style="left:503.40px;top:423.10px">22</div><div class="t g" style="left:547.35px;top:423.10px">106</div><div class="t g" style="left:597.85px;top:423.10px">2426</div><div class="t g gb" style="left:691.30px;top:423.10px">8</div><div class="t g" style="left:910.55px;top:423.10px">2</div><div class="t g gb" style="left:1085.75px;top:423.10px">3</div><div class="t p" style="left:-11.45px;top:466.36px">2026027</div><div class="t p" style="left:105.30px;top:466.36px">084</div><div class="t g" style="left:240.00px;top:466.36px">1</div><div class="t g" style="left:283.95px;top:466.36px">3</div><div class="t g" style="left:328.00px;top:466.36px">13</div><div class="t g" style="left:371.75px;top:466.36px">4</div><div class="t g" style="left:415.55px;top:466.36px">31</div><div class="t g" style="left:459.50px;top:466.36px">9</div><div class="t g" style="left:503.40px;top:466.36px">23</div><div class="t g" style="left:547.35px;top:466.36px">107</div><div class="t g" style="left:597.85px;top:466.36px">2427</div><div class="t g gb" style="left:691.30px;top:466.36px">9</div><div class="t g" style="left:866.50px;top:466.36px">1</div><div class="t g gb" style="left:1042.20px;top:466.36px">1</div><div class="t p" style="left:-11.45px;top:509.62px">2026028</div><div class="t p" style="left:105.30px;top:509.62px">499</div><div class="t g" style="left:196.05px;top:509.62px">1</div><div class="t g" style="left:240.00px;top:509.62px">2</div><div class="t g" style="left:283.95px;top:509.62px">4</div><div class="t g" style="left:328.00px;top:509.62px">14</div><div class="t g" style="left:415.55px;top:509.62px">32</div><div class="t g" style="left:459.50px;top:509.62px">10</div><div class="t g" style="left:503.40px;top:509.62px">24</div><div class="t g" style="left:547.35px;top:509.62px">108</div><div class="t g" style="left:597.85px;top:509.62px">2428</div><div class="t g gb" style="left:691.30px;top:509.62px">10</div><div class="t g" style="left:866.50px;top:509.62px">2</div><div class="t g gb" style="left:1042.20px;top:509.62px">2</div><div class="t p" style="left:-11.45px;top:552.88px">2026029</div><div class="t p" style="left:105.30px;top:552.88px">613</div><div class="t g" style="left:196.05px;top:552.88px">2</div><div class="t g" style="left:283.95px;top:552.88px">5</div><div class="t g" style="left:328.00px;top:552.88px">15</div><div class="t g" style="left:371.75px;top:552.88px">1</div><div class="t g" style="left:415.55px;top:552.88px">33</div><div class="t g" style="left:459.50px;top:552.88px">11</div><div class="t g" style="left:503.40px;top:552.88px">25</div><div class="t g" style="left:547.35px;top:552.88px">109</div><div class="t g" style="left:597.85px;top:552.88px">2429</div><div class="t g gb" style="left:691.30px;top:552.88px">11</div><div class="t g" style="left:910.55px;top:552.88px">1</div><div class="t g gb" style="left:1085.75px;top:552.88px">1</div><div class="t p" style="left:-11.45px;top:596.14px">2026030</div><div class="t p" style="left:105.30px;top:596.14px">811</div><div class="t g" style="left:196.05px;top:596.14px">3</div><div class="t g" style="left:283.95px;top:596.14px">6</div><div class="t g" style="left:328.00px;top:596.14px">16</div><div class="t g" style="left:371.75px;top:596.14px">2</div><div class="t g" style="left:415.55px;top:596.14px">34</div><div class="t g" style="left:459.50px;top:596.14px">12</div><div class="t g" style="left:503.40px;top:596.14px">26</div><div class="t g" style="left:547.35px;top:596.14px">110</div><div class="t g" style="left:597.85px;top:596.14px">2430</div><div class="t g gb" style="left:691.30px;top:596.14px">12</div><div class="t g" style="left:910.55px;top:596.14px">2</div><div class="t g gb" style="left:1085.75px;top:596.14px">2</div><div class="t p" style="left:-11.45px;top:639.40px">2026031</div><div class="t p" style="left:105.30px;top:639.40px">786</div><div class="t g" style="left:196.05px;top:639.40px">4</div><div class="t g" style="left:240.00px;top:639.40px">1</div><div class="t g" style="left:283.95px;top:639.40px">7</div><div class="t g" style="left:328.00px;top:639.40px">17</div><div class="t g" style="left:371.75px;top:639.40px">3</div><div class="t g" style="left:415.55px;top:639.40px">35</div><div class="t g" style="left:503.40px;top:639.40px">27</div><div class="t g" style="left:547.35px;top:639.40px">111</div><div class="t g" style="left:597.85px;top:639.40px">2431</div><div class="t g gb" style="left:734.95px;top:639.40px">1</div><div class="t g" style="left:866.50px;top:639.40px">1</div><div class="t g gb" style="left:1042.20px;top:639.40px">1</div><div class="t p" style="left:-11.45px;top:682.66px">2026032</div><div class="t p" style="left:105.30px;top:682.66px">730</div><div class="t g" style="left:240.00px;top:682.66px">2</div><div class="t g" style="left:283.95px;top:682.66px">8</div><div class="t g" style="left:328.00px;top:682.66px">18</div><div class="t g" style="left:371.75px;top:682.66px">4</div><div class="t g" style="left:415.55px;top:682.66px">36</div><div class="t g" style="left:459.50px;top:682.66px">1</div><div class="t g" style="left:503.40px;top:682.66px">28</div><div class="t g" style="left:547.35px;top:682.66px">112</div><div class="t g" style="left:597.85px;top:682.66px">2432</div><div class="t g gb" style="left:691.30px;top:682.66px">1</div><div class="t g" style="left:866.50px;top:682.66px">2</div><div class="t g gb" style="left:1042.20px;top:682.66px">2</div><div class="t p" style="left:-11.45px;top:725.92px">2026033</div><div class="t p" style="left:105.30px;top:725.92px">141</div><div class="t g" style="left:196.05px;top:725.92px">1</div><div class="t g" style="left:283.95px;top:725.92px">9</div><div class="t g" style="left:328.00px;top:725.92px">19</div><div class="t g" style="left:371.75px;top:725.92px">5</div><div class="t g" style="left:415.55px;top:725.92px">37</div><div class="t g" style="left:459.50px;top:725.92px">2</div><div class="t g" style="left:503.40px;top:725.92px">29</div><div class="t g" style="left:547.35px;top:725.92px">113</div><div class="t g" style="left:597.85px;top:725.92px">2433</div><div class="t g gb" style="left:691.30px;top:725.92px">2</div><div class="t g" style="left:910.55px;top:725.92px">1</div><div class="t g gb" style="left:1085.75px;top:725.92px">1</div><div class="t p" style="left:-11.45px;top:769.18px">2026034</div><div class="t p" style="left:105.30px;top:769.18px">216</div><div class="t g" style="left:196.05px;top:769.18px">2</div><div class="t g" style="left:283.95px;top:769.18px">10</div><div class="t g" style="left:328.00px;top:769.18px">20</div><div class="t g" style="left:371.75px;top:769.18px">6</div><div class="t g" style="left:415.55px;top:769.18px">38</div><div class="t g" style="left:459.50px;top:769.18px">3</div><div class="t g" style="left:503.40px;top:769.18px">30</div><div class="t g" style="left:547.35px;top:769.18px">114</div><div class="t g" style="left:597.85px;top:769.18px">2434</div><div class="t g gb" style="left:691.30px;top:769.18px">3</div><div class="t g" style="left:910.55px;top:769.18px">2</div><div class="t g gb" style="left:1085.75px;top:769.18px">2</div><div class="t p" style="left:-11.45px;top:812.44px">2026035</div><div class="t p" style="left:105.30px;top:812.44px">717</div><div class="t g" style="left:196.05px;top:812.44px">3</div><div class="t g" style="left:283.95px;top:812.44px">11</div><div class="t g" style="left:328.00px;top:812.44px">21</div><div class="t g" style="left:371.75px;top:812.44px">7</div><div class="t g" style="left:415.55px;top:812.44px">39</div><div class="t g" style="left:459.50px;top:812.44px">4</div><div class="t g" style="left:503.40px;top:812.44px">31</div><div class="t g" style="left:547.35px;top:812.44px">115</div><div class="t g" style="left:597.85px;top:812.44px">2435</div><div class="t g gb" style="left:691.30px;top:812.44px">4</div><div class="t g" style="left:910.55px;top:812.44px">3</div><div class="t g gb" style="left:1085.75px;top:812.44px">3</div><div class="t p" style="left:-11.45px;top:855.70px">2026036</div><div class="t p" style="left:105.30px;top:855.70px">788</div><div class="t g" style="left:196.05px;top:855.70px">4</div><div class="t g" style="left:240.00px;top:855.70px">1</div><div class="t g" style="left:283.95px;top:855.70px">12</div><div class="t g" style="left:328.00px;top:855.70px">22</div><div class="t g" style="left:371.75px;top:855.70px">8</div><div class="t g" style="left:415.55px;top:855.70px">40</div><div class="t g" style="left:459.50px;top:855.70px">5</div><div class="t g" style="left:547.35px;top:855.70px">116</div><div class="t g" style="left:597.85px;top:855.70px">2436</div><div class="t g gb" style="left:734.95px;top:855.70px">1</div><div class="t g" style="left:910.55px;top:855.70px">4</div><div class="t g gb" style="left:1085.75px;top:855.70px">4</div><div class="t p" style="left:-11.45px;top:898.96px">2026037</div><div class="t p" style="left:105.30px;top:898.96px">724</div><div class="t g" style="left:196.05px;top:898.96px">5</div><div class="t g" style="left:240.00px;top:898.96px">2</div><div class="t g" style="left:328.00px;top:898.96px">23</div><div class="t g" style="left:371.75px;top:898.96px">9</div><div class="t g" style="left:415.55px;top:898.96px">41</div><div class="t g" style="left:459.50px;top:898.96px">6</div><div class="t g" style="left:503.40px;top:898.96px">1</div><div class="t g" style="left:547.35px;top:898.96px">117</div><div class="t g" style="left:597.85px;top:898.96px">2437</div><div class="t g gb" style="left:691.30px;top:898.96px">1</div><div class="t g" style="left:866.50px;top:898.96px">1</div><div class="t g gb" style="left:1085.75px;top:898.96px">5</div><div class="t p" style="left:-11.45px;top:942.22px">2026038</div><div class="t p" style="left:105.30px;top:942.22px">789</div><div class="t g" style="left:196.05px;top:942.22px">6</div><div class="t g" style="left:240.00px;top:942.22px">3</div><div class="t g" style="left:283.95px;top:942.22px">1</div><div class="t g" style="left:328.00px;top:942.22px">24</div><div class="t g" style="left:371.75px;top:942.22px">10</div><div class="t g" style="left:415.55px;top:942.22px">42</div><div class="t g" style="left:459.50px;top:942.22px">7</div><div class="t g" style="left:547.35px;top:942.22px">118</div><div class="t g" style="left:597.85px;top:942.22px">2438</div><div class="t g gb" style="left:734.95px;top:942.22px">1</div><div class="t g" style="left:910.55px;top:942.22px">1</div><div class="t g gb" style="left:1085.75px;top:942.22px">6</div><div class="t p" style="left:-11.45px;top:985.48px">2026039</div><div class="t p" style="left:105.30px;top:985.48px">852</div><div class="t g" style="left:196.05px;top:985.48px">7</div><div class="t g" style="left:240.00px;top:985.48px">4</div><div class="t g" style="left:328.00px;top:985.48px">25</div><div class="t g" style="left:371.75px;top:985.48px">11</div><div class="t g" style="left:415.55px;top:985.48px">43</div><div class="t g" style="left:459.50px;top:985.48px">8</div><div class="t g" style="left:503.40px;top:985.48px">1</div><div class="t g" style="left:547.35px;top:985.48px">119</div><div class="t g" style="left:597.85px;top:985.48px">2439</div><div class="t g gb" style="left:691.30px;top:985.48px">1</div><div class="t g" style="left:866.50px;top:985.48px">1</div><div class="t g gb" style="left:1085.75px;top:985.48px">7</div><div class="t p" style="left:-11.45px;top:1028.74px">2026040</div><div class="t p" style="left:105.30px;top:1028.74px">009</div><div class="t g" style="left:240.00px;top:1028.74px">5</div><div class="t g" style="left:283.95px;top:1028.74px">1</div><div class="t g" style="left:328.00px;top:1028.74px">26</div><div class="t g" style="left:371.75px;top:1028.74px">12</div><div class="t g" style="left:415.55px;top:1028.74px">44</div><div class="t g" style="left:459.50px;top:1028.74px">9</div><div class="t g" style="left:503.40px;top:1028.74px">2</div><div class="t g" style="left:547.35px;top:1028.74px">120</div><div class="t g" style="left:597.85px;top:1028.74px">2440</div><div class="t g gb" style="left:691.30px;top:1028.74px">2</div><div class="t g" style="left:866.50px;top:1028.74px">2</div><div class="t g gb" style="left:1042.20px;top:1028.74px">1</div><div class="t p" style="left:-11.45px;top:1072.00px">2026041</div><div class="t p" style="left:105.30px;top:1072.00px">639</div><div class="t g" style="left:196.05px;top:1072.00px">1</div><div class="t g" style="left:240.00px;top:1072.00px">6</div><div class="t g" style="left:283.95px;top:1072.00px">2</div><div class="t g" style="left:371.75px;top:1072.00px">13</div><div class="t g" style="left:415.55px;top:1072.00px">45</div><div class="t g" style="left:459.50px;top:1072.00px">10</div><div class="t g" style="left:503.40px;top:1072.00px">3</div><div class="t g" style="left:547.35px;top:1072.00px">121</div><div class="t g" style="left:597.85px;top:1072.00px">2441</div><div class="t g gb" style="left:691.30px;top:1072.00px">3</div><div class="t g" style="left:910.55px;top:1072.00px">1</div><div class="t g gb" style="left:1085.75px;top:1072.00px">1</div><div class="t p" style="left:-11.45px;top:1115.26px">2026042</div><div class="t p" style="left:105.30px;top:1115.26px">795</div><div class="t g" style="left:196.05px;top:1115.26px">2</div><div class="t g" style="left:240.00px;top:1115.26px">7</div><div class="t g" style="left:283.95px;top:1115.26px">3</div><div class="t g" style="left:328.00px;top:1115.26px">1</div><div class="t g" style="left:371.75px;top:1115.26px">14</div><div class="t g" style="left:459.50px;top:1115.26px">11</div><div class="t g" style="left:503.40px;top:1115.26px">4</div><div class="t g" style="left:547.35px;top:1115.26px">122</div><div class="t g" style="left:597.85px;top:1115.26px">2442</div><div class="t g gb" style="left:734.95px;top:1115.26px">1</div><div class="t g" style="left:910.55px;top:1115.26px">2</div><div class="t g gb" style="left:1085.75px;top:1115.26px">2</div><div class="t p" style="left:-11.45px;top:1158.52px">2026043</div><div class="t p" style="left:105.30px;top:1158.52px">179</div><div class="t g" style="left:196.05px;top:1158.52px">3</div><div class="t g" style="left:283.95px;top:1158.52px">4</div><div class="t g" style="left:328.00px;top:1158.52px">2</div><div class="t g" style="left:371.75px;top:1158.52px">15</div><div class="t g" style="left:415.55px;top:1158.52px">1</div><div class="t g" style="left:459.50px;top:1158.52px">12</div><div class="t g" style="left:503.40px;top:1158.52px">5</div><div class="t g" style="left:547.35px;top:1158.52px">123</div><div class="t g" style="left:597.85px;top:1158.52px">2443</div><div class="t g gb" style="left:691.30px;top:1158.52px">1</div><div class="t g" style="left:910.55px;top:1158.52px">3</div><div class="t g gb" style="left:1085.75px;top:1158.52px">3</div><div class="t p" style="left:-11.45px;top:1201.78px">2026044</div><div class="t p" style="left:105.30px;top:1201.78px">051</div><div class="t g" style="left:240.00px;top:1201.78px">1</div><div class="t g" style="left:283.95px;top:1201.78px">5</div><div class="t g" style="left:328.00px;top:1201.78px">3</div><div class="t g" style="left:371.75px;top:1201.78px">16</div><div class="t g" style="left:415.55px;top:1201.78px">2</div><div class="t g" style="left:459.50px;top:1201.78px">13</div><div class="t g" style="left:503.40px;top:1201.78px">6</div><div class="t g" style="left:547.35px;top:1201.78px">124</div><div class="t g" style="left:597.85px;top:1201.78px">2444</div><div class="t g gb" style="left:691.30px;top:1201.78px">2</div><div class="t g" style="left:866.50px;top:1201.78px">1</div><div class="t g gb" style="left:1042.20px;top:1201.78px">1</div><div class="t p" style="left:-11.45px;top:1245.04px">2026045</div><div class="t p" style="left:105.30px;top:1245.04px">144</div><div class="t g" style="left:196.05px;top:1245.04px">1</div><div class="t g" style="left:283.95px;top:1245.04px">6</div><div class="t g" style="left:328.00px;top:1245.04px">4</div><div class="t g" style="left:371.75px;top:1245.04px">17</div><div class="t g" style="left:415.55px;top:1245.04px">3</div><div class="t g" style="left:459.50px;top:1245.04px">14</div><div class="t g" style="left:503.40px;top:1245.04px">7</div><div class="t g" style="left:547.35px;top:1245.04px">125</div><div class="t g" style="left:597.85px;top:1245.04px">2445</div><div class="t g gb" style="left:691.30px;top:1245.04px">3</div><div class="t g" style="left:910.55px;top:1245.04px">1</div><div class="t g gb" style="left:1085.75px;top:1245.04px">1</div><div class="t p" style="left:-11.45px;top:1288.30px">2026046</div><div class="t p" style="left:105.30px;top:1288.30px">703</div><div class="t g" style="left:240.00px;top:1288.30px">1</div><div class="t g" style="left:283.95px;top:1288.30px">7</div><div class="t g" style="left:328.00px;top:1288.30px">5</div><div class="t g" style="left:371.75px;top:1288.30px">18</div><div class="t g" style="left:415.55px;top:1288.30px">4</div><div class="t g" style="left:459.50px;top:1288.30px">15</div><div class="t g" style="left:503.40px;top:1288.30px">8</div><div class="t g" style="left:547.35px;top:1288.30px">126</div><div class="t g" style="left:597.85px;top:1288.30px">2446</div><div class="t g gb" style="left:691.30px;top:1288.30px">4</div><div class="t g" style="left:866.50px;top:1288.30px">1</div><div class="t g gb" style="left:1042.20px;top:1288.30px">1</div><div class="t p" style="left:-11.45px;top:1331.56px">2026047</div><div class="t p" style="left:105.30px;top:1331.56px">330</div><div class="t g" style="left:240.00px;top:1331.56px">2</div><div class="t g" style="left:283.95px;top:1331.56px">8</div><div class="t g" style="left:328.00px;top:1331.56px">6</div><div class="t g" style="left:371.75px;top:1331.56px">19</div><div class="t g" style="left:415.55px;top:1331.56px">5</div><div class="t g" style="left:459.50px;top:1331.56px">16</div><div class="t g" style="left:503.40px;top:1331.56px">9</div><div class="t g" style="left:547.35px;top:1331.56px">127</div><div class="t g" style="left:597.85px;top:1331.56px">2447</div><div class="t g gb" style="left:691.30px;top:1331.56px">5</div><div class="t g" style="left:866.50px;top:1331.56px">2</div><div class="t g gb" style="left:1042.20px;top:1331.56px">2</div><div class="t p" style="left:-11.45px;top:1374.82px">2026048</div><div class="t p" style="left:105.30px;top:1374.82px">097</div><div class="t g" style="left:240.00px;top:1374.82px">3</div><div class="t g" style="left:283.95px;top:1374.82px">9</div><div class="t g" style="left:328.00px;top:1374.82px">7</div><div class="t g" style="left:371.75px;top:1374.82px">20</div><div class="t g" style="left:415.55px;top:1374.82px">6</div><div class="t g" style="left:459.50px;top:1374.82px">17</div><div class="t g" style="left:503.40px;top:1374.82px">10</div><div class="t g" style="left:547.35px;top:1374.82px">128</div><div class="t g" style="left:597.85px;top:1374.82px">2448</div><div class="t g gb" style="left:691.30px;top:1374.82px">6</div><div class="t g" style="left:866.50px;top:1374.82px">3</div><div class="t g gb" style="left:1042.20px;top:1374.82px">3</div><div class="t p" style="left:-11.45px;top:1418.08px">2026049</div><div class="t p" style="left:105.30px;top:1418.08px">592</div><div class="t g" style="left:196.05px;top:1418.08px">1</div><div class="t g" style="left:240.00px;top:1418.08px">4</div><div class="t g" style="left:328.00px;top:1418.08px">8</div><div class="t g" style="left:371.75px;top:1418.08px">21</div><div class="t g" style="left:415.55px;top:1418.08px">7</div><div class="t g" style="left:459.50px;top:1418.08px">18</div><div class="t g" style="left:503.40px;top:1418.08px">11</div><div class="t g" style="left:547.35px;top:1418.08px">129</div><div class="t g" style="left:597.85px;top:1418.08px">2449</div><div class="t g gb" style="left:691.30px;top:1418.08px">7</div><div class="t g" style="left:866.50px;top:1418.08px">4</div><div class="t g gb" style="left:1085.75px;top:1418.08px">1</div><div class="t p" style="left:-11.45px;top:1461.34px">2026050</div><div class="t p" style="left:105.30px;top:1461.34px">435</div><div class="t g" style="left:196.05px;top:1461.34px">2</div><div class="t g" style="left:240.00px;top:1461.34px">5</div><div class="t g" style="left:283.95px;top:1461.34px">1</div><div class="t g" style="left:371.75px;top:1461.34px">22</div><div class="t g" style="left:415.55px;top:1461.34px">8</div><div class="t g" style="left:459.50px;top:1461.34px">19</div><div class="t g" style="left:503.40px;top:1461.34px">12</div><div class="t g" style="left:547.35px;top:1461.34px">130</div><div class="t g" style="left:597.85px;top:1461.34px">2450</div><div class="t g gb" style="left:691.30px;top:1461.34px">8</div><div class="t g" style="left:910.55px;top:1461.34px">1</div><div class="t g gb" style="left:1085.75px;top:1461.34px">2</div></div>
<svg width="1224" height="1548" viewBox="0 0 1224 1548">
<polygon fill="#3cb83f" points="1071.3,216.9 1045.9,1516.5 1039.0,1516.3 1052.2,1539.6 1066.2,1516.9 1059.3,1516.7 1084.7,217.1"/>
<g fill="none" stroke="#626262" stroke-width="1.45" transform="translate(-0.6,0)"><polyline points="344.0,228.9 344.0,272.2 431.8,315.4 344.0,358.7 300.0,402.0 300.0,445.2 256.1,488.5 431.8,531.8 300.0,575.0 300.0,618.3 519.5,661.5 256.1,704.8 300.0,748.0 300.0,791.3 300.0,834.6 563.4,877.8 344.0,921.1 563.4,964.3 344.0,1007.6 256.1,1050.9 388.0,1094.1 475.6,1137.4 300.0,1180.6 256.1,1223.9 300.0,1267.2 256.1,1310.4 256.1,1353.7 256.1,1396.9 344.0,1440.2 388.0,1483.5"/><polyline points="795.0,228.9 795.0,272.2 795.0,315.4 795.0,358.7 795.0,402.0 795.0,445.2 795.0,488.5 795.0,531.8 795.0,575.0 795.0,618.3 751.3,661.5 795.0,704.8 795.0,748.0 795.0,791.3 795.0,834.6 751.3,877.8 795.0,921.1 751.3,964.3 795.0,1007.6 795.0,1050.9 795.0,1094.1 751.3,1137.4 795.0,1180.6 795.0,1223.9 795.0,1267.2 795.0,1310.4 795.0,1353.7 795.0,1396.9 795.0,1440.2 795.0,1483.5"/><polyline points="970.5,228.9 970.5,272.2 970.5,315.4 970.5,358.7 926.5,402.0 926.5,445.2 970.5,488.5 970.5,531.8 926.5,575.0 926.5,618.3 970.5,661.5 970.5,704.8 926.5,748.0 926.5,791.3 926.5,834.6 926.5,877.8 970.5,921.1 926.5,964.3 970.5,1007.6 970.5,1050.9 926.5,1094.1 926.5,1137.4 926.5,1180.6 970.5,1223.9 926.5,1267.2 970.5,1310.4 970.5,1353.7 970.5,1396.9 970.5,1440.2 926.5,1483.5"/><polyline points="1102.2,228.9 1102.2,272.2 1145.8,315.4 1102.2,358.7 1102.2,402.0 1102.2,445.2 1145.8,488.5 1145.8,531.8 1102.2,575.0 1102.2,618.3 1145.8,661.5 1145.8,704.8 1102.2,748.0 1102.2,791.3 1102.2,834.6 1102.2,877.8 1102.2,921.1 1102.2,964.3 1102.2,1007.6 1145.8,1050.9 1102.2,1094.1 1102.2,1137.4 1102.2,1180.6 1145.8,1223.9 1102.2,1267.2 1145.8,1310.4 1145.8,1353.7 1145.8,1396.9 1102.2,1440.2 1102.2,1483.5"/><line x1="388.0" y1="1483.5" x2="300.0" y2="1527.3"/><line x1="388.0" y1="1483.5" x2="344.0" y2="1527.3"/><line x1="388.0" y1="1483.5" x2="388.0" y2="1527.3"/><line x1="388.0" y1="1483.5" x2="475.6" y2="1527.3"/><line x1="388.0" y1="1483.5" x2="563.4" y2="1527.3"/><line x1="1102.2" y1="1483.5" x2="1102.2" y2="1527.3"/></g>
<g><circle cx="344.3" cy="228.9" r="17.45" fill="#f5392d"/><circle cx="795.2" cy="228.9" r="17.45" fill="#1b7bf2"/><circle cx="970.8" cy="228.9" r="17.45" fill="#f5392d"/><circle cx="1102.5" cy="228.9" r="17.45" fill="#1b7bf2"/><circle cx="344.3" cy="272.2" r="17.45" fill="#f5392d"/><circle cx="795.2" cy="272.2" r="17.45" fill="#1b7bf2"/><circle cx="970.8" cy="272.2" r="17.45" fill="#f5392d"/><circle cx="1102.5" cy="272.2" r="17.45" fill="#1b7bf2"/><circle cx="432.1" cy="315.4" r="17.45" fill="#f5392d"/><circle cx="795.2" cy="315.4" r="17.45" fill="#1b7bf2"/><circle cx="970.8" cy="315.4" r="17.45" fill="#f5392d"/><circle cx="1146.0" cy="315.4" r="17.45" fill="#1b7bf2"/><circle cx="344.3" cy="358.7" r="17.45" fill="#f5392d"/><circle cx="795.2" cy="358.7" r="17.45" fill="#1b7bf2"/><circle cx="970.8" cy="358.7" r="17.45" fill="#f5392d"/><circle cx="1102.5" cy="358.7" r="17.45" fill="#1b7bf2"/><circle cx="300.3" cy="402.0" r="17.45" fill="#f5392d"/><circle cx="795.2" cy="402.0" r="17.45" fill="#1b7bf2"/><circle cx="926.8" cy="402.0" r="17.45" fill="#f5392d"/><circle cx="1102.5" cy="402.0" r="17.45" fill="#1b7bf2"/><circle cx="300.3" cy="445.2" r="17.45" fill="#f5392d"/><circle cx="795.2" cy="445.2" r="17.45" fill="#1b7bf2"/><circle cx="926.8" cy="445.2" r="17.45" fill="#f5392d"/><circle cx="1102.5" cy="445.2" r="17.45" fill="#1b7bf2"/><circle cx="256.4" cy="488.5" r="17.45" fill="#f5392d"/><circle cx="795.2" cy="488.5" r="17.45" fill="#1b7bf2"/><circle cx="970.8" cy="488.5" r="17.45" fill="#f5392d"/><circle cx="1146.0" cy="488.5" r="17.45" fill="#1b7bf2"/><circle cx="432.1" cy="531.8" r="17.45" fill="#f5392d"/><circle cx="795.2" cy="531.8" r="17.45" fill="#1b7bf2"/><circle cx="970.8" cy="531.8" r="17.45" fill="#f5392d"/><circle cx="1146.0" cy="531.8" r="17.45" fill="#1b7bf2"/><circle cx="300.3" cy="575.0" r="17.45" fill="#f5392d"/><circle cx="795.2" cy="575.0" r="17.45" fill="#1b7bf2"/><circle cx="926.8" cy="575.0" r="17.45" fill="#f5392d"/><circle cx="1102.5" cy="575.0" r="17.45" fill="#1b7bf2"/><circle cx="300.3" cy="618.3" r="17.45" fill="#f5392d"/><circle cx="795.2" cy="618.3" r="17.45" fill="#1b7bf2"/><circle cx="926.8" cy="618.3" r="17.45" fill="#f5392d"/><circle cx="1102.5" cy="618.3" r="17.45" fill="#1b7bf2"/><circle cx="519.8" cy="661.5" r="17.45" fill="#f5392d"/><circle cx="751.6" cy="661.5" r="17.45" fill="#1b7bf2"/><circle cx="970.8" cy="661.5" r="17.45" fill="#f5392d"/><circle cx="1146.0" cy="661.5" r="17.45" fill="#1b7bf2"/><circle cx="256.4" cy="704.8" r="17.45" fill="#f5392d"/><circle cx="795.2" cy="704.8" r="17.45" fill="#1b7bf2"/><circle cx="970.8" cy="704.8" r="17.45" fill="#f5392d"/><circle cx="1146.0" cy="704.8" r="17.45" fill="#1b7bf2"/><circle cx="300.3" cy="748.0" r="17.45" fill="#f5392d"/><circle cx="795.2" cy="748.0" r="17.45" fill="#1b7bf2"/><circle cx="926.8" cy="748.0" r="17.45" fill="#f5392d"/><circle cx="1102.5" cy="748.0" r="17.45" fill="#1b7bf2"/><circle cx="300.3" cy="791.3" r="17.45" fill="#f5392d"/><circle cx="795.2" cy="791.3" r="17.45" fill="#1b7bf2"/><circle cx="926.8" cy="791.3" r="17.45" fill="#f5392d"/><circle cx="1102.5" cy="791.3" r="17.45" fill="#1b7bf2"/><circle cx="300.3" cy="834.6" r="17.45" fill="#f5392d"/><circle cx="795.2" cy="834.6" r="17.45" fill="#1b7bf2"/><circle cx="926.8" cy="834.6" r="17.45" fill="#f5392d"/><circle cx="1102.5" cy="834.6" r="17.45" fill="#1b7bf2"/><circle cx="563.7" cy="877.8" r="17.45" fill="#f5392d"/><circle cx="751.6" cy="877.8" r="17.45" fill="#1b7bf2"/><circle cx="926.8" cy="877.8" r="17.45" fill="#f5392d"/><circle cx="1102.5" cy="877.8" r="17.45" fill="#1b7bf2"/><circle cx="344.3" cy="921.1" r="17.45" fill="#f5392d"/><circle cx="795.2" cy="921.1" r="17.45" fill="#1b7bf2"/><circle cx="970.8" cy="921.1" r="17.45" fill="#f5392d"/><circle cx="1102.5" cy="921.1" r="17.45" fill="#1b7bf2"/><circle cx="563.7" cy="964.3" r="17.45" fill="#f5392d"/><circle cx="751.6" cy="964.3" r="17.45" fill="#1b7bf2"/><circle cx="926.8" cy="964.3" r="17.45" fill="#f5392d"/><circle cx="1102.5" cy="964.3" r="17.45" fill="#1b7bf2"/><circle cx="344.3" cy="1007.6" r="17.45" fill="#f5392d"/><circle cx="795.2" cy="1007.6" r="17.45" fill="#1b7bf2"/><circle cx="970.8" cy="1007.6" r="17.45" fill="#f5392d"/><circle cx="1102.5" cy="1007.6" r="17.45" fill="#1b7bf2"/><circle cx="256.4" cy="1050.9" r="17.45" fill="#f5392d"/><circle cx="795.2" cy="1050.9" r="17.45" fill="#1b7bf2"/><circle cx="970.8" cy="1050.9" r="17.45" fill="#f5392d"/><circle cx="1146.0" cy="1050.9" r="17.45" fill="#1b7bf2"/><circle cx="388.3" cy="1094.1" r="17.45" fill="#f5392d"/><circle cx="795.2" cy="1094.1" r="17.45" fill="#1b7bf2"/><circle cx="926.8" cy="1094.1" r="17.45" fill="#f5392d"/><circle cx="1102.5" cy="1094.1" r="17.45" fill="#1b7bf2"/><circle cx="475.9" cy="1137.4" r="17.45" fill="#f5392d"/><circle cx="751.6" cy="1137.4" r="17.45" fill="#1b7bf2"/><circle cx="926.8" cy="1137.4" r="17.45" fill="#f5392d"/><circle cx="1102.5" cy="1137.4" r="17.45" fill="#1b7bf2"/><circle cx="300.3" cy="1180.6" r="17.45" fill="#f5392d"/><circle cx="795.2" cy="1180.6" r="17.45" fill="#1b7bf2"/><circle cx="926.8" cy="1180.6" r="17.45" fill="#f5392d"/><circle cx="1102.5" cy="1180.6" r="17.45" fill="#1b7bf2"/><circle cx="256.4" cy="1223.9" r="17.45" fill="#f5392d"/><circle cx="795.2" cy="1223.9" r="17.45" fill="#1b7bf2"/><circle cx="970.8" cy="1223.9" r="17.45" fill="#f5392d"/><circle cx="1146.0" cy="1223.9" r="17.45" fill="#1b7bf2"/><circle cx="300.3" cy="1267.2" r="17.45" fill="#f5392d"/><circle cx="795.2" cy="1267.2" r="17.45" fill="#1b7bf2"/><circle cx="926.8" cy="1267.2" r="17.45" fill="#f5392d"/><circle cx="1102.5" cy="1267.2" r="17.45" fill="#1b7bf2"/><circle cx="256.4" cy="1310.4" r="17.45" fill="#f5392d"/><circle cx="795.2" cy="1310.4" r="17.45" fill="#1b7bf2"/><circle cx="970.8" cy="1310.4" r="17.45" fill="#f5392d"/><circle cx="1146.0" cy="1310.4" r="17.45" fill="#1b7bf2"/><circle cx="256.4" cy="1353.7" r="17.45" fill="#f5392d"/><circle cx="795.2" cy="1353.7" r="17.45" fill="#1b7bf2"/><circle cx="970.8" cy="1353.7" r="17.45" fill="#f5392d"/><circle cx="1146.0" cy="1353.7" r="17.45" fill="#1b7bf2"/><circle cx="256.4" cy="1396.9" r="17.45" fill="#f5392d"/><circle cx="795.2" cy="1396.9" r="17.45" fill="#1b7bf2"/><circle cx="970.8" cy="1396.9" r="17.45" fill="#f5392d"/><circle cx="1146.0" cy="1396.9" r="17.45" fill="#1b7bf2"/><circle cx="344.3" cy="1440.2" r="17.45" fill="#f5392d"/><circle cx="795.2" cy="1440.2" r="17.45" fill="#1b7bf2"/><circle cx="970.8" cy="1440.2" r="17.45" fill="#f5392d"/><circle cx="1102.5" cy="1440.2" r="17.45" fill="#1b7bf2"/><circle cx="388.3" cy="1483.5" r="17.45" fill="#f5392d"/><circle cx="795.2" cy="1483.5" r="17.45" fill="#1b7bf2"/><circle cx="926.8" cy="1483.5" r="17.45" fill="#f5392d"/><circle cx="1102.5" cy="1483.5" r="17.45" fill="#1b7bf2"/><circle cx="300.3" cy="1527.3" r="17.45" fill="#f5392d"/><circle cx="344.3" cy="1527.3" r="17.45" fill="#f5392d"/><circle cx="388.3" cy="1527.3" r="17.45" fill="#f5392d"/><circle cx="475.9" cy="1527.3" r="17.45" fill="#f5392d"/><circle cx="563.7" cy="1527.3" r="17.45" fill="#f5392d"/><circle cx="1102.5" cy="1527.3" r="17.45" fill="#1b7bf2"/></g>
<g fill="none" stroke="#fff" stroke-width="2"><path d="M72.5 1527.4H92.5M82.5 1517.4V1537.4"/></g>
<g fill="none" stroke="#3f8cf3" stroke-width="2"><rect x="110.3" y="1518" width="14.5" height="14.5" rx="3.5"/><rect x="115" y="1522" width="14.5" height="14.5" rx="3.5" fill="#e9e9e9"/><path d="M118.2 1529.3h8.2M122.3 1525.2v8.2" stroke-width="1.6"/></g>
<g fill="#2d7ef2"><circle cx="197.5" cy="1527.3" r="3.2"/><circle cx="207.5" cy="1527.3" r="3.2"/><circle cx="217.4" cy="1527.3" r="3.2"/></g>
</svg>
<div class="L"><div class="t c" style="left:283.95px;top:206.80px">2</div><div class="t k" style="left:734.95px;top:206.80px">小</div><div class="t k" style="left:910.55px;top:206.80px">偶</div><div class="t k" style="left:1042.20px;top:206.80px">质</div><div class="t c" style="left:283.95px;top:250.06px">2</div><div class="t k" style="left:734.95px;top:250.06px">小</div><div class="t k" style="left:910.55px;top:250.06px">偶</div><div class="t k" style="left:1042.20px;top:250.06px">质</div><div class="t c" style="left:371.75px;top:293.32px">4</div><div class="t k" style="left:734.95px;top:293.32px">小</div><div class="t k" style="left:910.55px;top:293.32px">偶</div><div class="t k" style="left:1085.75px;top:293.32px">合</div><div class="t c" style="left:283.95px;top:336.58px">2</div><div class="t k" style="left:734.95px;top:336.58px">小</div><div class="t k" style="left:910.55px;top:336.58px">偶</div><div class="t k" style="left:1042.20px;top:336.58px">质</div><div class="t c" style="left:240.00px;top:379.84px">1</div><div class="t k" style="left:734.95px;top:379.84px">小</div><div class="t k" style="left:866.50px;top:379.84px">奇</div><div class="t k" style="left:1042.20px;top:379.84px">质</div><div class="t c" style="left:240.00px;top:423.10px">1</div><div class="t k" style="left:734.95px;top:423.10px">小</div><div class="t k" style="left:866.50px;top:423.10px">奇</div><div class="t k" style="left:1042.20px;top:423.10px">质</div><div class="t c" style="left:196.05px;top:466.36px">0</div><div class="t k" style="left:734.95px;top:466.36px">小</div><div class="t k" style="left:910.55px;top:466.36px">偶</div><div class="t k" style="left:1085.75px;top:466.36px">合</div><div class="t c" style="left:371.75px;top:509.62px">4</div><div class="t k" style="left:734.95px;top:509.62px">小</div><div class="t k" style="left:910.55px;top:509.62px">偶</div><div class="t k" style="left:1085.75px;top:509.62px">合</div><div class="t c" style="left:240.00px;top:552.88px">1</div><div class="t k" style="left:734.95px;top:552.88px">小</div><div class="t k" style="left:866.50px;top:552.88px">奇</div><div class="t k" style="left:1042.20px;top:552.88px">质</div><div class="t c" style="left:240.00px;top:596.14px">1</div><div class="t k" style="left:734.95px;top:596.14px">小</div><div class="t k" style="left:866.50px;top:596.14px">奇</div><div class="t k" style="left:1042.20px;top:596.14px">质</div><div class="t c" style="left:459.50px;top:639.40px">6</div><div class="t k" style="left:691.30px;top:639.40px">大</div><div class="t k" style="left:910.55px;top:639.40px">偶</div><div class="t k" style="left:1085.75px;top:639.40px">合</div><div class="t c" style="left:196.05px;top:682.66px">0</div><div class="t k" style="left:734.95px;top:682.66px">小</div><div class="t k" style="left:910.55px;top:682.66px">偶</div><div class="t k" style="left:1085.75px;top:682.66px">合</div><div class="t c" style="left:240.00px;top:725.92px">1</div><div class="t k" style="left:734.95px;top:725.92px">小</div><div class="t k" style="left:866.50px;top:725.92px">奇</div><div class="t k" style="left:1042.20px;top:725.92px">质</div><div class="t c" style="left:240.00px;top:769.18px">1</div><div class="t k" style="left:734.95px;top:769.18px">小</div><div class="t k" style="left:866.50px;top:769.18px">奇</div><div class="t k" style="left:1042.20px;top:769.18px">质</div><div class="t c" style="left:240.00px;top:812.44px">1</div><div class="t k" style="left:734.95px;top:812.44px">小</div><div class="t k" style="left:866.50px;top:812.44px">奇</div><div class="t k" style="left:1042.20px;top:812.44px">质</div><div class="t c" style="left:503.40px;top:855.70px">7</div><div class="t k" style="left:691.30px;top:855.70px">大</div><div class="t k" style="left:866.50px;top:855.70px">奇</div><div class="t k" style="left:1042.20px;top:855.70px">质</div><div class="t c" style="left:283.95px;top:898.96px">2</div><div class="t k" style="left:734.95px;top:898.96px">小</div><div class="t k" style="left:910.55px;top:898.96px">偶</div><div class="t k" style="left:1042.20px;top:898.96px">质</div><div class="t c" style="left:503.40px;top:942.22px">7</div><div class="t k" style="left:691.30px;top:942.22px">大</div><div class="t k" style="left:866.50px;top:942.22px">奇</div><div class="t k" style="left:1042.20px;top:942.22px">质</div><div class="t c" style="left:283.95px;top:985.48px">2</div><div class="t k" style="left:734.95px;top:985.48px">小</div><div class="t k" style="left:910.55px;top:985.48px">偶</div><div class="t k" style="left:1042.20px;top:985.48px">质</div><div class="t c" style="left:196.05px;top:1028.74px">0</div><div class="t k" style="left:734.95px;top:1028.74px">小</div><div class="t k" style="left:910.55px;top:1028.74px">偶</div><div class="t k" style="left:1085.75px;top:1028.74px">合</div><div class="t c" style="left:328.00px;top:1072.00px">3</div><div class="t k" style="left:734.95px;top:1072.00px">小</div><div class="t k" style="left:866.50px;top:1072.00px">奇</div><div class="t k" style="left:1042.20px;top:1072.00px">质</div><div class="t c" style="left:415.55px;top:1115.26px">5</div><div class="t k" style="left:691.30px;top:1115.26px">大</div><div class="t k" style="left:866.50px;top:1115.26px">奇</div><div class="t k" style="left:1042.20px;top:1115.26px">质</div><div class="t c" style="left:240.00px;top:1158.52px">1</div><div class="t k" style="left:734.95px;top:1158.52px">小</div><div class="t k" style="left:866.50px;top:1158.52px">奇</div><div class="t k" style="left:1042.20px;top:1158.52px">质</div><div class="t c" style="left:196.05px;top:1201.78px">0</div><div class="t k" style="left:734.95px;top:1201.78px">小</div><div class="t k" style="left:910.55px;top:1201.78px">偶</div><div class="t k" style="left:1085.75px;top:1201.78px">合</div><div class="t c" style="left:240.00px;top:1245.04px">1</div><div class="t k" style="left:734.95px;top:1245.04px">小</div><div class="t k" style="left:866.50px;top:1245.04px">奇</div><div class="t k" style="left:1042.20px;top:1245.04px">质</div><div class="t c" style="left:196.05px;top:1288.30px">0</div><div class="t k" style="left:734.95px;top:1288.30px">小</div><div class="t k" style="left:910.55px;top:1288.30px">偶</div><div class="t k" style="left:1085.75px;top:1288.30px">合</div><div class="t c" style="left:196.05px;top:1331.56px">0</div><div class="t k" style="left:734.95px;top:1331.56px">小</div><div class="t k" style="left:910.55px;top:1331.56px">偶</div><div class="t k" style="left:1085.75px;top:1331.56px">合</div><div class="t c" style="left:196.05px;top:1374.82px">0</div><div class="t k" style="left:734.95px;top:1374.82px">小</div><div class="t k" style="left:910.55px;top:1374.82px">偶</div><div class="t k" style="left:1085.75px;top:1374.82px">合</div><div class="t c" style="left:283.95px;top:1418.08px">2</div><div class="t k" style="left:734.95px;top:1418.08px">小</div><div class="t k" style="left:910.55px;top:1418.08px">偶</div><div class="t k" style="left:1042.20px;top:1418.08px">质</div><div class="t c" style="left:328.00px;top:1461.34px">3</div><div class="t k" style="left:734.95px;top:1461.34px">小</div><div class="t k" style="left:866.50px;top:1461.34px">奇</div><div class="t k" style="left:1042.20px;top:1461.34px">质</div><div class="t c" style="left:240.00px;top:1505.17px">1</div><div class="t c" style="left:283.95px;top:1505.17px">2</div><div class="t c" style="left:328.00px;top:1505.17px">3</div><div class="t c" style="left:415.55px;top:1505.17px">5</div><div class="t c" style="left:503.40px;top:1505.17px">7</div><div class="t k" style="left:1042.20px;top:1505.17px">质</div>
<div class="t" style="left:4.2px;top:1505.67px;width:64px;color:#fff;font-size:20.5px;text-align:left">预测区</div>
<div class="t" style="left:134.5px;top:1505.67px;width:50px;color:#3f8cf3;font-size:20px;text-align:left;font-weight:500">复制</div>
</div>
</body></html>
